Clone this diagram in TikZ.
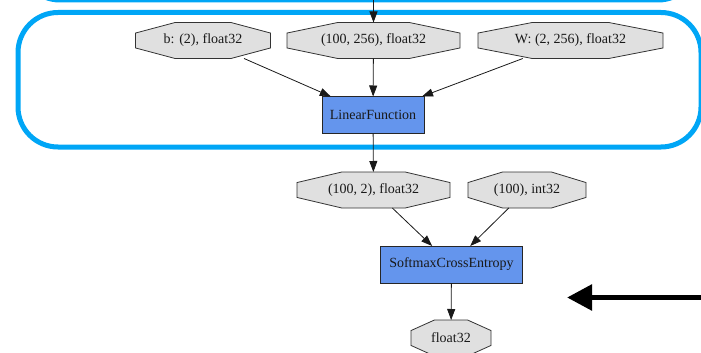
\documentclass[tikz,border=0pt]{standalone}
\usepackage{fontspec}
\setmainfont{Liberation Serif}
\usetikzlibrary{arrows.meta,calc,backgrounds}
\definecolor{octfill}{RGB}{224,224,224}
\definecolor{fnfill}{RGB}{100,149,237}
\definecolor{grpblue}{RGB}{0,166,246}
\begin{document}
\begin{tikzpicture}[x=1pt,y=-1pt,
  lbl/.style={font=\fontsize{14}{16}\selectfont, text=black!90},
  octnode/.style={lbl, minimum height=36pt, inner sep=0pt, outer sep=0pt},
  fnnode/.style={lbl, draw=black!85, fill=fnfill, line width=0.8pt, minimum height=37pt, inner sep=0pt, outer sep=0pt},
  octshape/.style={draw=black!80, fill=octfill, line width=0.8pt},
  edge/.style={draw=black!90, line width=0.8pt, -{Triangle[length=11pt,width=8pt]}},
  group/.style={draw=grpblue, line width=5pt, rounded corners=40pt},
  bigarrow/.style={draw=black, line width=5.5pt, -{Triangle[length=25pt,width=25pt]}}]
\useasboundingbox (0,0) rectangle (701,353);
\clip (0,0) rectangle (701,353);

% cluster frames
\draw[group] (20,-150) rectangle (698,0);
\draw[group] (18,12.5) rectangle (701,147);

% nodes
\node[octnode, minimum width=173pt] (x) at (373.5,40.5) {(100, 256), float32};
\node[octnode, minimum width=135pt] (b) at (203,40.5) {b: (2), float32};
\node[octnode, minimum width=185pt] (W) at (570.5,40.5) {W: (2, 256), float32};
\node[fnnode, minimum width=102pt] (lf) at (373,115) {LinearFunction};
\node[octnode, minimum width=153pt] (h) at (373.5,190) {(100, 2), float32};
\node[octnode, minimum width=118pt] (t) at (527,190) {(100), int32};
\node[fnnode, minimum width=142pt] (sce) at (451.5,264.5) {SoftmaxCrossEntropy};
\node[octnode, minimum width=80pt] (loss) at (451,338) {float32};

\begin{scope}[on background layer]
\foreach \n in {x,b,W,h,t,loss} {
  \filldraw[octshape]
    ($(\n.west)!0.414!(\n.north west)$) --
    ($(\n.north)!0.414!(\n.north west)$) --
    ($(\n.north)!0.414!(\n.north east)$) --
    ($(\n.east)!0.414!(\n.north east)$) --
    ($(\n.east)!0.414!(\n.south east)$) --
    ($(\n.south)!0.414!(\n.south east)$) --
    ($(\n.south)!0.414!(\n.south west)$) --
    ($(\n.west)!0.414!(\n.south west)$) -- cycle;
}
\end{scope}

% edges
\coordinate (topin) at (373.5,0);
\draw[edge] (topin) -- (x.north);
\draw[edge] (b) -- (lf);
\draw[edge] (x) -- (lf);
\draw[edge] (W) -- (lf);
\draw[edge] (lf) -- (h);
\draw[edge] (h) -- (sce);
\draw[edge] (t) -- (sce);
\draw[edge] (sce) -- (loss);

% pointer arrow
\coordinate (pstart) at (705,297.5);
\coordinate (ptip) at (567,297.5);
\draw[bigarrow] (pstart) -- (ptip);
\end{tikzpicture}
\end{document}
